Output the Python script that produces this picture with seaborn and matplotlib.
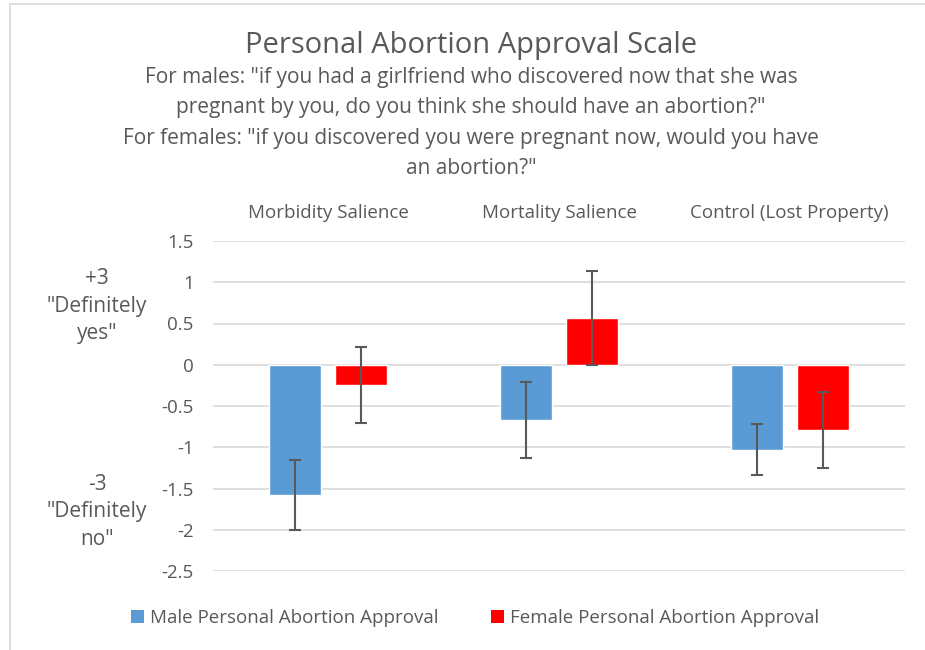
import pandas as pd
import matplotlib.pyplot as plt
import seaborn as sns
from matplotlib.lines import Line2D
from matplotlib.patches import Patch

# values
conditions = ["Morbidity Salience", "Mortality Salience", "Control (Lost Property)"]
male_means = [-1.58, -0.67, -1.03]
female_means = [-0.25, 0.57, -0.79]
male_err = [0.42, 0.46, 0.31]
female_err = [0.46, 0.57, 0.46]
series = ["Male Personal Abortion Approval", "Female Personal Abortion Approval"]
y_ticks = [1.5, 1, 0.5, 0, -0.5, -1, -1.5, -2, -2.5]

title = "Personal Abortion Approval Scale"
subtitle = ('For males: "if you had a girlfriend who discovered now that she was\n'
            'pregnant by you, do you think she should have an abortion?"\n'
            'For females: "if you discovered you were pregnant now, would you have\n'
            'an abortion?"')

TEXT = "#595959"
COLORS = ["#5B9BD5", "#FF0000"]


def main():
    df = pd.DataFrame({
        "condition": conditions * 2,
        "group": [series[0]] * 3 + [series[1]] * 3,
        "score": male_means + female_means,
    })

    sns.set_style("white")
    plt.rcParams["font.family"] = ["Open Sans", "DejaVu Sans"]

    fig = plt.figure(figsize=(9.25, 6.5), dpi=100)
    ax = fig.add_axes([213 / 925, 1 - 571 / 650, 692 / 925, 330 / 650])

    sns.barplot(data=df, x="condition", y="score", hue="group", order=conditions,
                hue_order=series, palette=COLORS, width=0.572, gap=0.21,
                errorbar=None, legend=False, ax=ax, saturation=1)

    # error bars at the end of each bar seaborn drew
    for cont, errs in zip(ax.containers, [male_err, female_err]):
        for bar, e in zip(cont, errs):
            xc = bar.get_x() + bar.get_width() / 2
            yv = bar.get_y() + bar.get_height()
            ax.errorbar(xc, yv, yerr=e, fmt="none", ecolor="#595959",
                        elinewidth=1.5, capsize=4.5, capthick=1.5, zorder=5)

    ax.set_ylim(-2.5, 1.5)
    ax.set_xlim(-0.5, 2.5)
    ax.set_yticks(y_ticks)
    ax.set_yticklabels([f"{t:g}" for t in y_ticks])
    ax.grid(axis="y", color="#D9D9D9", linewidth=1.2)
    ax.set_axisbelow(True)
    for s in ax.spines.values():
        s.set_visible(False)
    ax.xaxis.tick_top()
    ax.tick_params(axis="x", length=0, pad=14, labelsize=13.5, labelcolor=TEXT)
    ax.tick_params(axis="y", length=0, pad=14, labelsize=13.5, labelcolor=TEXT)
    ax.set_xlabel("")
    ax.set_ylabel("")

    fig.text(97 / 925, 1 - 306 / 650, '+3\n"Definitely\nyes"', ha="center", va="center",
             fontsize=15, color=TEXT, linespacing=1.42)
    fig.text(97 / 925, 1 - 512 / 650, '-3\n"Definitely\nno"', ha="center", va="center",
             fontsize=15, color=TEXT, linespacing=1.42)

    fig.text(471 / 925, 1 - 45 / 650, title, ha="center", va="center",
             fontsize=21, color=TEXT)
    fig.text(471 / 925, 1 - 123 / 650, subtitle, ha="center", va="center",
             fontsize=15, color=TEXT, linespacing=1.6)

    handles = [Patch(facecolor=c, edgecolor="none") for c in COLORS]
    fig.legend(handles, series, loc="center", bbox_to_anchor=(475 / 925, 1 - 618 / 650),
               ncol=2, frameon=False, fontsize=13.5, labelcolor=TEXT,
               handlelength=0.7, handleheight=0.7, handletextpad=0.3, columnspacing=2.8)

    # light chart-area border (top and left edges visible in the reference)
    fig.add_artist(Line2D([10 / 925, 1.0], [1 - 4 / 650] * 2, color="#D9D9D9", lw=1.2,
                          transform=fig.transFigure))
    fig.add_artist(Line2D([10 / 925] * 2, [0.0, 1 - 4 / 650], color="#D9D9D9", lw=1.2,
                          transform=fig.transFigure))

    fig.savefig("out.png", dpi=100)


if __name__ == "__main__":
    main()
